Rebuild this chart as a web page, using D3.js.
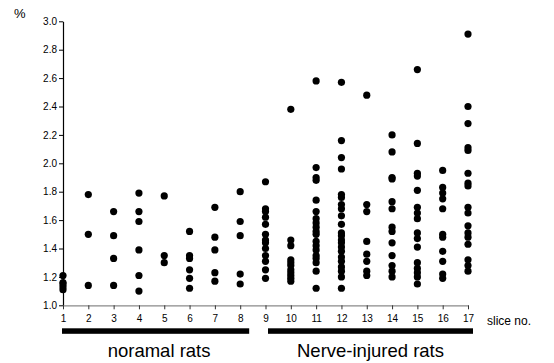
<!DOCTYPE html>
<html>
<head>
<meta charset="utf-8">
<script src="https://cdn.jsdelivr.net/npm/d3@7"></script>
<style>
  body { margin: 0; background: #fff; }
  svg { font-family: "Liberation Sans", Arial, sans-serif; }
  .axis text { font-size: 10px; fill: #000; }
</style>
</head>
<body>
<svg id="chart" width="554" height="363"></svg>
<script>
// slice numbers on the x axis
const slices = d3.range(1, 18);
const yTicks = [1.0, 1.2, 1.4, 1.6, 1.8, 2.0, 2.2, 2.4, 2.6, 2.8, 3.0];

// measured values (%) per slice
const slice1 = [1.21, 1.16, 1.15, 1.13, 1.11];
const slice2 = [1.78, 1.50, 1.14];
const slice3 = [1.66, 1.49, 1.33, 1.14];
const slice4 = [1.79, 1.66, 1.59, 1.39, 1.21, 1.10];
const slice5 = [1.77, 1.35, 1.30];
const slice6 = [1.52, 1.35, 1.33, 1.25, 1.19, 1.12];
const slice7 = [1.69, 1.48, 1.39, 1.23, 1.17];
const slice8 = [1.80, 1.59, 1.49, 1.22, 1.15];
const slice9 = [1.87, 1.68, 1.66, 1.62, 1.57, 1.50, 1.46, 1.44, 1.40, 1.35, 1.31, 1.25, 1.19];
const slice10 = [2.38, 1.46, 1.42, 1.32, 1.30, 1.28, 1.25, 1.23, 1.21, 1.19, 1.17];
const slice11 = [2.58, 1.97, 1.90, 1.88, 1.74, 1.66, 1.61, 1.58, 1.55, 1.52, 1.50, 1.45, 1.42, 1.39, 1.35, 1.33, 1.30, 1.24, 1.12];
const slice12 = [2.57, 2.16, 2.04, 1.96, 1.78, 1.76, 1.71, 1.68, 1.63, 1.57, 1.51, 1.49, 1.46, 1.44, 1.41, 1.38, 1.34, 1.31, 1.27, 1.24, 1.20, 1.12];
const slice13 = [2.48, 1.71, 1.66, 1.45, 1.36, 1.31, 1.24, 1.21];
const slice14 = [2.20, 2.08, 1.90, 1.89, 1.73, 1.68, 1.55, 1.52, 1.44, 1.35, 1.28, 1.24, 1.20];
const slice15 = [2.66, 2.14, 1.93, 1.91, 1.81, 1.69, 1.65, 1.61, 1.51, 1.47, 1.41, 1.30, 1.26, 1.23, 1.20, 1.15];
const slice16 = [1.95, 1.83, 1.79, 1.75, 1.68, 1.50, 1.48, 1.38, 1.31, 1.22, 1.19];
const slice17 = [2.91, 2.40, 2.28, 2.11, 2.09, 1.93, 1.86, 1.84, 1.69, 1.65, 1.56, 1.51, 1.48, 1.43, 1.32, 1.28, 1.24];

const series = [slice1, slice2, slice3, slice4, slice5, slice6, slice7, slice8, slice9,
  slice10, slice11, slice12, slice13, slice14, slice15, slice16, slice17];

const groups = [
  { label: 'noramal rats', from: 1, to: 8 },
  { label: 'Nerve-injured rats', from: 9, to: 17 }
];

const points = [];
series.forEach((vals, i) => vals.forEach(v => points.push({ slice: slices[i], value: v })));

const svg = d3.select('#chart');

const x = d3.scaleLinear().domain([1, 17]).range([63, 468]);
const y = d3.scaleLinear().domain([1.0, 3.0]).range([305.3, 21.3]);

// y axis
const yAxis = svg.append('g')
  .attr('class', 'axis axis-y')
  .attr('transform', 'translate(63, 0)')
  .call(d3.axisLeft(y).tickValues(yTicks).tickFormat(d3.format('.1f')).tickSize(4).tickSizeOuter(0).tickPadding(2));
yAxis.select('.domain').attr('stroke', '#000').attr('stroke-width', 1.2);

// x axis
const xAxis = svg.append('g')
  .attr('class', 'axis axis-x')
  .attr('transform', 'translate(0, 305.3)')
  .call(d3.axisBottom(x).tickValues(slices).tickFormat(d3.format('d')).tickSize(4).tickSizeOuter(0).tickPadding(6));
xAxis.select('.domain').attr('stroke', '#8a8a8a').attr('stroke-width', 1.2);
xAxis.selectAll('.tick line').attr('stroke', '#333');

// dots
svg.append('g')
  .selectAll('circle')
  .data(points)
  .enter()
  .append('circle')
  .attr('cx', d => x(d.slice))
  .attr('cy', d => y(d.value))
  .attr('r', 3.6)
  .attr('fill', '#000');

// labels
svg.append('text')
  .attr('x', 14).attr('y', 18)
  .attr('font-size', 13)
  .text('%');

svg.append('text')
  .attr('x', 487).attr('y', 325)
  .attr('font-size', 12)
  .text('slice no.');

// group bars under the axis
const barOffset = [[-1, 9], [2.5, 5]];
const textShift = [3.5, 0];
groups.forEach((g, i) => {
  const x0 = x(g.from) + barOffset[i][0];
  const x1 = x(g.to) + barOffset[i][1];
  svg.append('rect')
    .attr('x', x0).attr('y', 328.3)
    .attr('width', x1 - x0).attr('height', 5.5)
    .attr('fill', '#000');
  svg.append('text')
    .attr('x', (x0 + x1) / 2 + textShift[i]).attr('y', 356.5)
    .attr('text-anchor', 'middle')
    .attr('font-size', 18.5)
    .text(g.label);
});
</script>
</body>
</html>
